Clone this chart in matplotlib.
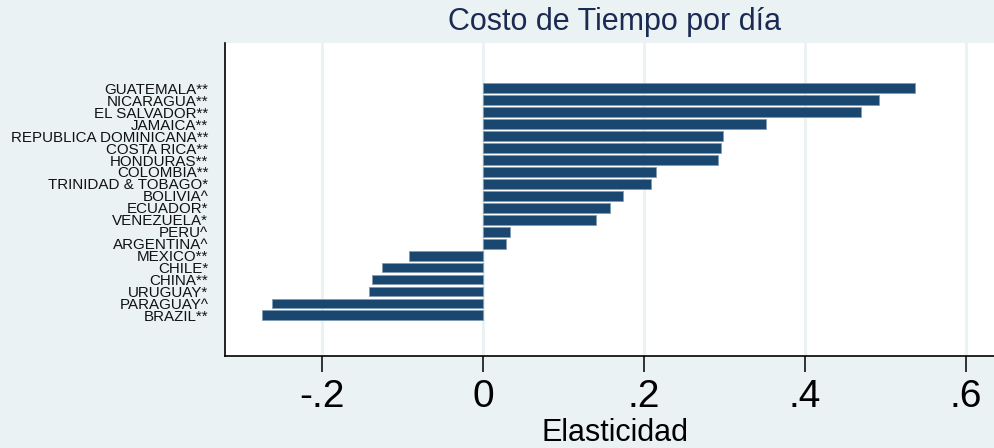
import numpy as np
import matplotlib
matplotlib.use("Agg")
import matplotlib.pyplot as plt

# datos (orden de arriba hacia abajo)
paises = ["GUATEMALA**", "NICARAGUA**", "EL SALVADOR**", "JAMAICA**",
          "REPUBLICA DOMINICANA**", "COSTA RICA**", "HONDURAS**", "COLOMBIA**",
          "TRINIDAD & TOBAGO*", "BOLIVIA^", "ECUADOR*", "VENEZUELA*", "PERU^",
          "ARGENTINA^", "MEXICO**", "CHILE*", "CHINA**", "URUGUAY*",
          "PARAGUAY^", "BRAZIL**"]
elasticidad = [0.537, 0.492, 0.470, 0.352, 0.298, 0.296, 0.292, 0.215,
               0.209, 0.174, 0.158, 0.140, 0.033, 0.028, -0.092, -0.126,
               -0.138, -0.142, -0.262, -0.275]
xticks = [-0.2, 0, 0.2, 0.4, 0.6]
xtick_labels = ["-.2", "0", ".2", ".4", ".6"]

plt.rcParams['font.family'] = ['Liberation Sans', 'DejaVu Sans']

fondo = "#eaf2f3"
azul = "#1a476f"

fig = plt.figure(figsize=(9.94, 4.48), dpi=100, facecolor=fondo)
ax = fig.add_axes([0.2264, 0.2054, 0.7736, 0.6987])
ax.set_facecolor("white")

pos = np.arange(len(paises))[::-1]
ax.barh(pos, elasticidad, height=0.82, color=azul, edgecolor="#7f9bb3",
        linewidth=0.6, zorder=3)

# cuadricula
for t in xticks:
    ax.axvline(t, color=fondo, linewidth=2.2, zorder=1)

ax.set_xlim(-0.3205, 0.6348)
ax.set_ylim(-3.4, 22.8)

ax.set_xticks(xticks)
ax.set_xticklabels(xtick_labels, fontsize=28)
ax.tick_params(axis="x", direction="out", length=11.5, width=1.1, pad=5,
               colors="black")
ax.set_yticks(pos)
ax.set_yticklabels(paises, fontsize=10.9, color="#111111")
ax.tick_params(axis="y", length=0, pad=12)

for s in ["top", "right"]:
    ax.spines[s].set_visible(False)
ax.spines["left"].set_linewidth(1.2)
ax.spines["bottom"].set_linewidth(1.2)

fig.text(615 / 994, 1 - 22 / 448, "Costo de Tiempo por día", ha="center",
         va="center", fontsize=22, color="#1a2a52")
fig.text(615 / 994, 1 - 433 / 448, "Elasticidad", ha="center", va="center",
         fontsize=22, color="black")

fig.savefig("out.png", dpi=100, facecolor=fondo)
